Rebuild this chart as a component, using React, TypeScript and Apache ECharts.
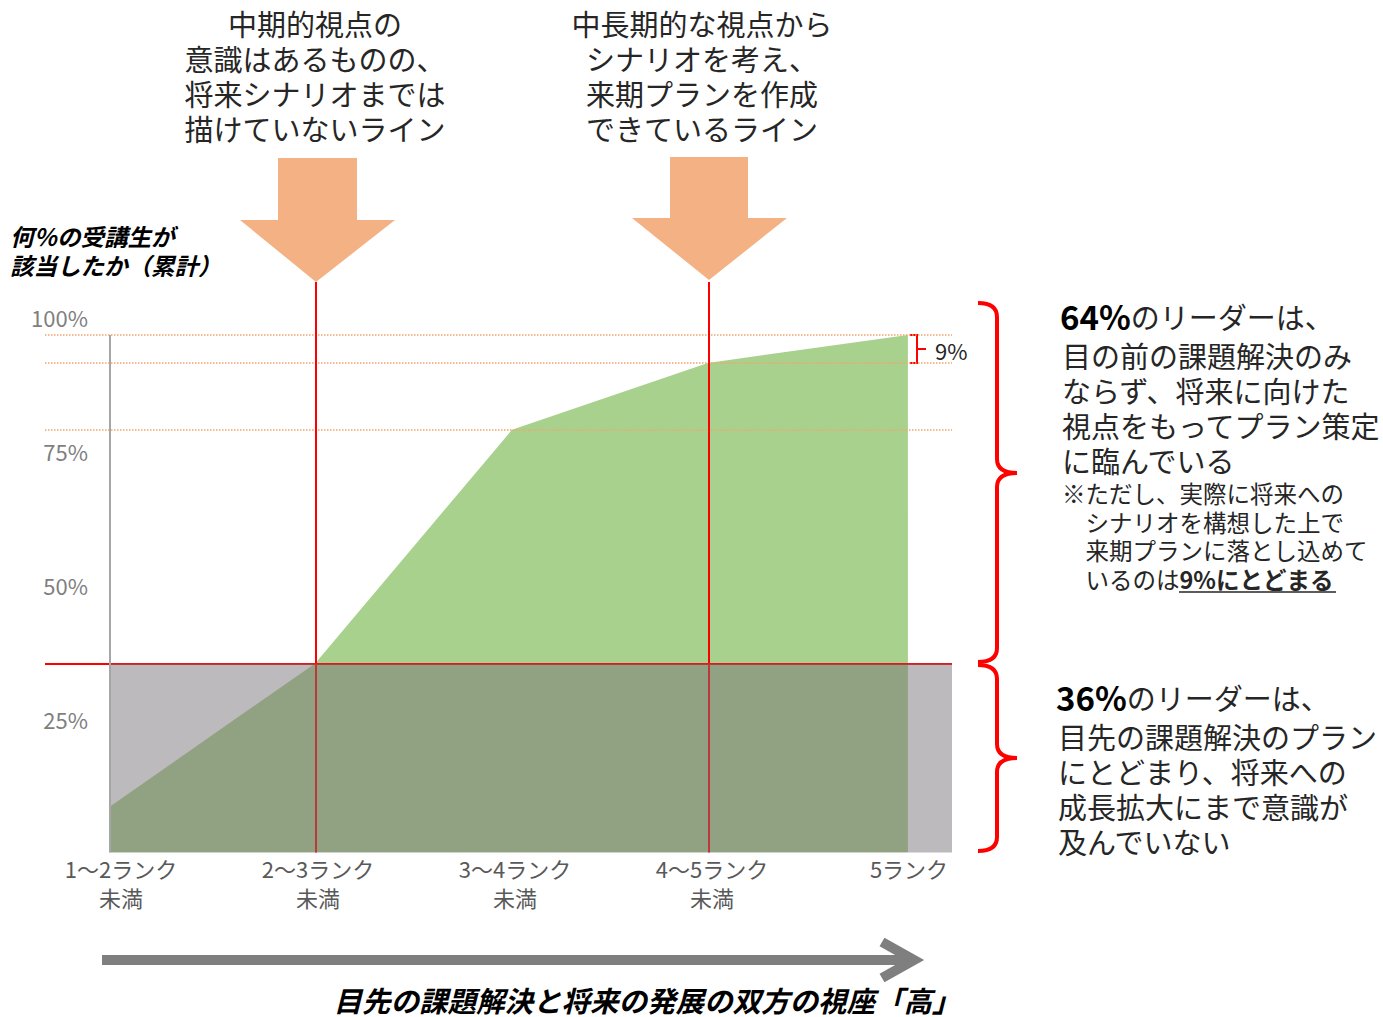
import { useEffect, useRef } from "react";
import * as echarts from "echarts";

// ---- data ----
const categories = ["1～2ランク\n未満", "2～3ランク\n未満", "3～4ランク\n未満", "4～5ランク\n未満", "5ランク"];
const rankPositions = [0, 1.028, 2.015, 2.997, 4];
const cumulativeShare = [8.6, 35.3, 78.9, 91.4, 96.6];
const yTickLabels = [25, 50, 75, 100];
const baselineShare = 35.3;
const guideLevels = [96.6, 91.4, 78.9];
const markedRanks = [1, 3];
const yMax = 106.5;
const xMin = -0.326;
const xMax = 4.221;

const topNoteLeft = "中期的視点の\n意識はあるものの、\n将来シナリオまでは\n描けていないライン";
const topNoteRight = "中長期的な視点から\nシナリオを考え、\n来期プランを作成\nできているライン";
const yTitle = "何％の受講生が\n該当したか（累計）";
const xTitle = "目先の課題解決と将来の発展の双方の視座「高」";
const upperHead = "64%";
const upperBody = "目の前の課題解決のみ\nならず、将来に向けた\n視点をもってプラン策定\nに臨んでいる";
const upperNote = "※ただし、実際に将来への\n　シナリオを構想した上で\n　来期プランに落とし込めて";
const upperNoteLast = "　いるのは";
const upperNoteStrong = "9%にとどまる";
const lowerHead = "36%";
const lowerBody = "目先の課題解決のプラン\nにとどまり、将来への\n成長拡大にまで意識が\n及んでいない";
const gapLabel = "9%";

const FONT = "'Noto Sans CJK JP', 'Noto Sans', sans-serif";

function bracePath(x0: number, x1: number, x2: number, y0: number, y1: number, ym: number, r: number) {
  return `M${x0} ${y0} Q${x1} ${y0} ${x1} ${y0 + r} L${x1} ${ym - r} Q${x1} ${ym} ${x2} ${ym} Q${x1} ${ym} ${x1} ${ym + r} L${x1} ${y1 - r} Q${x1} ${y1} ${x0} ${y1}`;
}

echarts.graphic.registerShape("braceTop", echarts.graphic.extendPath(bracePath(978, 997, 1017, 303, 662, 473, 14), {}));
echarts.graphic.registerShape("braceBottom", echarts.graphic.extendPath(bracePath(978, 997, 1017, 665, 851, 758, 14), {}));

export default function App() {
  const ref = useRef<HTMLDivElement>(null);
  useEffect(() => {
    if (!ref.current) return;
    const chart = echarts.init(ref.current, undefined, { renderer: "svg" });
    const redLine = { color: "#ff0000", width: 2, type: "solid" };
    const option: any = {
      animation: false,
      backgroundColor: "#ffffff",
      textStyle: { fontFamily: FONT },
      grid: [
        { left: 45, right: 431, top: 282, bottom: 164.5 },
        { left: 22.5, right: 375.5, top: 852.5, height: 1 },
      ],
      xAxis: [
        { type: "value", gridIndex: 0, min: xMin, max: xMax, show: false },
        {
          type: "category",
          gridIndex: 1,
          data: categories,
          boundaryGap: true,
          axisLine: { show: false },
          axisTick: { show: false },
          axisLabel: { color: "#595959", fontSize: 22, lineHeight: 29, margin: 0, interval: 0, fontFamily: FONT },
        },
      ],
      yAxis: [
        {
          type: "value",
          gridIndex: 0,
          min: 0,
          max: yMax,
          interval: 25,
          offset: -51,
          axisLine: { show: false },
          axisTick: { show: false },
          splitLine: { show: false },
          axisLabel: {
            color: "#7f7f7f",
            fontSize: 22,
            fontFamily: FONT,
            showMaxLabel: false,
            formatter: (v: number) => (yTickLabels.includes(v) ? v + "%" : ""),
          },
        },
        { type: "value", gridIndex: 1, show: false },
      ],
      series: [
        {
          type: "line",
          xAxisIndex: 0,
          yAxisIndex: 0,
          data: cumulativeShare.map((v, i) => [rankPositions[i], v]),
          symbol: "none",
          showSymbol: false,
          lineStyle: { width: 0 },
          areaStyle: { color: "#a9d18e", opacity: 1 },
          z: 2,
          silent: true,
        },
        {
          type: "line",
          xAxisIndex: 0,
          yAxisIndex: 0,
          data: [],
          z: 3,
          markLine: {
            z: 3,
            silent: true,
            symbol: ["none", "none"],
            label: { show: false },
            data: [
              ...guideLevels.map((v) => ({ yAxis: v, lineStyle: { color: "#f4a46c", width: 1.5, type: "dotted" } })),
              { yAxis: baselineShare, lineStyle: redLine },
              ...markedRanks.map((i) => ({ xAxis: rankPositions[i], lineStyle: redLine })),
            ],
          },
        },
        {
          type: "line",
          xAxisIndex: 0,
          yAxisIndex: 0,
          data: [],
          z: 6,
          markArea: {
            z: 6,
            silent: true,
            itemStyle: { color: "rgba(120,114,120,0.49)" },
            data: [[{ xAxis: rankPositions[0], yAxis: 0 }, { xAxis: xMax, yAxis: baselineShare }]],
          },
        },
        {
          type: "line",
          xAxisIndex: 0,
          yAxisIndex: 0,
          data: [],
          z: 8,
          markLine: {
            z: 8,
            silent: true,
            symbol: ["none", "none"],
            label: { show: false },
            lineStyle: { color: "#a6a6a6", width: 2, type: "solid" },
            data: [[{ coord: [rankPositions[0], 0] }, { coord: [rankPositions[0], cumulativeShare[4]] }]],
          },
        },
      ],
      graphic: [
        // top notes
        {
          type: "text", x: 315, y: 5.5,
          style: { text: topNoteLeft, fill: "#262626", fontSize: 29, lineHeight: 35, fontFamily: FONT, align: "center", verticalAlign: "top" },
        },
        {
          type: "text", x: 702, y: 5.5,
          style: { text: topNoteRight, fill: "#262626", fontSize: 29, lineHeight: 35, fontFamily: FONT, align: "center", verticalAlign: "top" },
        },
        // down arrows
        {
          type: "polygon",
          shape: { points: [[278, 158], [357, 158], [357, 220], [395, 220], [316, 282], [240, 220], [278, 220]] },
          style: { fill: "#f4b183" },
        },
        {
          type: "polygon",
          shape: { points: [[670, 157], [748, 157], [748, 218], [787, 218], [709, 280], [632, 218], [670, 218]] },
          style: { fill: "#f4b183" },
        },
        // y title
        {
          type: "text", x: 10, y: 221.5,
          style: { text: yTitle, fill: "#000", fontSize: 23.5, lineHeight: 29, fontWeight: "bold", fontStyle: "italic", fontFamily: FONT, align: "left", verticalAlign: "top" },
        },
        // small 9% bracket
        {
          type: "polyline",
          shape: { points: [[910, 335], [917, 335], [917, 363], [910, 363]] },
          style: { stroke: "#ff0000", lineWidth: 2, fill: null },
        },
        {
          type: "line",
          shape: { x1: 917, y1: 349, x2: 926, y2: 349 },
          style: { stroke: "#ff0000", lineWidth: 2 },
        },
        {
          type: "text", x: 935, y: 350,
          style: { text: gapLabel, fill: "#262626", fontSize: 22, fontFamily: FONT, align: "left", verticalAlign: "middle" },
        },
        // braces
        { type: "braceTop", style: { stroke: "#ff0000", lineWidth: 4, fill: null } },
        { type: "braceBottom", style: { stroke: "#ff0000", lineWidth: 4, fill: null } },
        // upper description
        {
          type: "text", x: 1060, y: 316,
          style: {
            text: `{b|${upperHead}}{n|のリーダーは、}`,
            align: "left", verticalAlign: "middle", fontFamily: FONT,
            rich: {
              b: { fontSize: 33, fontWeight: "bold", fill: "#000", fontFamily: FONT },
              n: { fontSize: 29, fill: "#262626", fontFamily: FONT },
            },
          },
        },
        {
          type: "text", x: 1062, y: 337.5,
          style: { text: upperBody, fill: "#262626", fontSize: 29, lineHeight: 35, fontFamily: FONT, align: "left", verticalAlign: "top" },
        },
        {
          type: "text", x: 1062, y: 478.7,
          style: { text: upperNote, fill: "#262626", fontSize: 23.5, lineHeight: 28.7, fontFamily: FONT, align: "left", verticalAlign: "top" },
        },
        {
          type: "text", x: 1062, y: 579,
          style: {
            text: `{n|${upperNoteLast}}{u|${upperNoteStrong}}`,
            align: "left", verticalAlign: "middle", fontFamily: FONT,
            rich: {
              n: { fontSize: 23.5, fill: "#262626", fontFamily: FONT },
              u: { fontSize: 23.5, fontWeight: "bold", fill: "#262626", fontFamily: FONT },
            },
          },
        },
        {
          type: "line",
          shape: { x1: 1179, y1: 592, x2: 1336, y2: 592 },
          style: { stroke: "#262626", lineWidth: 1.5 },
        },
        // lower description
        {
          type: "text", x: 1056, y: 697,
          style: {
            text: `{b|${lowerHead}}{n|のリーダーは、}`,
            align: "left", verticalAlign: "middle", fontFamily: FONT,
            rich: {
              b: { fontSize: 33, fontWeight: "bold", fill: "#000", fontFamily: FONT },
              n: { fontSize: 29, fill: "#262626", fontFamily: FONT },
            },
          },
        },
        {
          type: "text", x: 1058, y: 718.5,
          style: { text: lowerBody, fill: "#262626", fontSize: 29, lineHeight: 35, fontFamily: FONT, align: "left", verticalAlign: "top" },
        },
        // bottom arrow
        {
          type: "line",
          shape: { x1: 102, y1: 960, x2: 914, y2: 960 },
          style: { stroke: "#7f7f7f", lineWidth: 10 },
        },
        {
          type: "polyline",
          shape: { points: [[882, 942], [914, 960], [882, 978]] },
          style: { stroke: "#7f7f7f", lineWidth: 10, fill: null, lineJoin: "miter" },
        },
        {
          type: "text", x: 647, y: 999,
          style: { text: xTitle, fill: "#000", fontSize: 28.5, fontWeight: "bold", fontStyle: "italic", fontFamily: FONT, align: "center", verticalAlign: "middle" },
        },
      ],
    };
    chart.setOption(option);
    return () => chart.dispose();
  }, []);
  return <div ref={ref} style={{ position: "fixed", left: 0, top: 0, width: 1383, height: 1017 }} />;
}
